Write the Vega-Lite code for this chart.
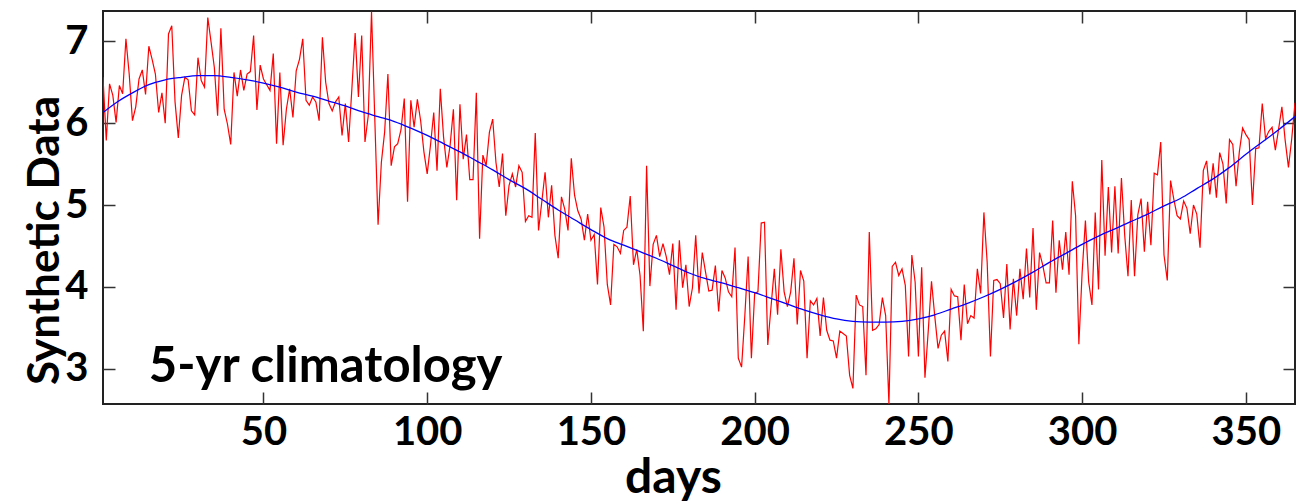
{
  "$schema": "https://vega.github.io/schema/vega-lite/v6.json",
  "width": 1192,
  "height": 393,
  "autosize": {"type": "none"},
  "padding": {"left": 103, "top": 11, "right": 1, "bottom": 100},
  "background": "white",
  "config": {
    "view": {"stroke": "#222222", "strokeWidth": 2},
    "axis": {
      "domain": false, "grid": false,
      "labelFont": "Lato", "labelFontWeight": "bold", "labelFontSize": 40, "labelColor": "black",
      "titleFont": "Lato", "titleFontWeight": "bold", "titleFontSize": 44, "titleColor": "black",
      "tickColor": "#333333", "tickSize": -12, "tickWidth": 1.5
    }
  },
  "datasets": {
    "obs": [
{"d":1,"v":6.56},{"d":2,"v":5.79},{"d":3,"v":6.48},{"d":4,"v":6.34},{"d":5,"v":6.01},{"d":6,"v":6.46},{"d":7,"v":6.36},{"d":8,"v":7.03},{"d":9,"v":6.6},{"d":10,"v":6.03},
{"d":11,"v":6.2},{"d":12,"v":6.54},{"d":13,"v":6.65},{"d":14,"v":6.35},{"d":15,"v":6.94},{"d":16,"v":6.78},{"d":17,"v":6.6},{"d":18,"v":6.13},{"d":19,"v":6.37},{"d":20,"v":6.0},
{"d":21,"v":7.09},{"d":22,"v":7.19},{"d":23,"v":6.26},{"d":24,"v":5.82},{"d":25,"v":6.34},{"d":26,"v":6.56},{"d":27,"v":6.53},{"d":28,"v":6.15},{"d":29,"v":6.1},{"d":30,"v":6.8},
{"d":31,"v":6.52},{"d":32,"v":6.44},{"d":33,"v":7.29},{"d":34,"v":6.99},{"d":35,"v":6.68},{"d":36,"v":6.09},{"d":37,"v":7.16},{"d":38,"v":6.17},{"d":39,"v":5.99},{"d":40,"v":5.74},
{"d":41,"v":6.62},{"d":42,"v":6.33},{"d":43,"v":6.65},{"d":44,"v":6.4},{"d":45,"v":6.6},{"d":46,"v":6.63},{"d":47,"v":7.07},{"d":48,"v":6.16},{"d":49,"v":6.71},{"d":50,"v":6.54},
{"d":51,"v":6.47},{"d":52,"v":6.4},{"d":53,"v":6.85},{"d":54,"v":5.75},{"d":55,"v":6.62},{"d":56,"v":5.73},{"d":57,"v":6.17},{"d":58,"v":6.42},{"d":59,"v":6.07},{"d":60,"v":6.64},
{"d":61,"v":6.78},{"d":62,"v":7.03},{"d":63,"v":6.28},{"d":64,"v":6.22},{"d":65,"v":6.32},{"d":66,"v":6.26},{"d":67,"v":6.03},{"d":68,"v":7.05},{"d":69,"v":6.5},{"d":70,"v":6.24},
{"d":71,"v":6.15},{"d":72,"v":6.26},{"d":73,"v":6.32},{"d":74,"v":5.85},{"d":75,"v":6.24},{"d":76,"v":5.77},{"d":77,"v":6.42},{"d":78,"v":7.1},{"d":79,"v":6.32},{"d":80,"v":7.07},
{"d":81,"v":5.77},{"d":82,"v":6.09},{"d":83,"v":7.36},{"d":84,"v":6.05},{"d":85,"v":4.76},{"d":86,"v":5.52},{"d":87,"v":5.89},{"d":88,"v":6.6},{"d":89,"v":5.48},{"d":90,"v":5.71},
{"d":91,"v":5.75},{"d":92,"v":5.92},{"d":93,"v":6.3},{"d":94,"v":5.04},{"d":95,"v":6.28},{"d":96,"v":5.95},{"d":97,"v":6.29},{"d":98,"v":6.03},{"d":99,"v":5.65},{"d":100,"v":5.38},
{"d":101,"v":5.73},{"d":102,"v":6.13},{"d":103,"v":5.42},{"d":104,"v":6.42},{"d":105,"v":5.83},{"d":106,"v":5.46},{"d":107,"v":5.73},{"d":108,"v":6.17},{"d":109,"v":5.06},{"d":110,"v":6.23},
{"d":111,"v":5.56},{"d":112,"v":5.86},{"d":113,"v":5.31},{"d":114,"v":5.31},{"d":115,"v":6.37},{"d":116,"v":4.59},{"d":117,"v":5.61},{"d":118,"v":5.48},{"d":119,"v":5.89},{"d":120,"v":6.05},
{"d":121,"v":5.52},{"d":122,"v":5.22},{"d":123,"v":5.63},{"d":124,"v":4.87},{"d":125,"v":5.24},{"d":126,"v":5.38},{"d":127,"v":5.22},{"d":128,"v":5.48},{"d":129,"v":5.4},{"d":130,"v":4.8},
{"d":131,"v":4.87},{"d":132,"v":4.85},{"d":133,"v":5.88},{"d":134,"v":4.69},{"d":135,"v":5.04},{"d":136,"v":5.4},{"d":137,"v":4.85},{"d":138,"v":5.24},{"d":139,"v":4.63},{"d":140,"v":4.35},
{"d":141,"v":5.1},{"d":142,"v":4.95},{"d":143,"v":4.69},{"d":144,"v":5.57},{"d":145,"v":5.12},{"d":146,"v":4.93},{"d":147,"v":4.83},{"d":148,"v":4.57},{"d":149,"v":4.89},{"d":150,"v":4.57},
{"d":151,"v":4.64},{"d":152,"v":4.03},{"d":153,"v":4.97},{"d":154,"v":4.73},{"d":155,"v":4.03},{"d":156,"v":3.78},{"d":157,"v":4.52},{"d":158,"v":4.49},{"d":159,"v":4.41},{"d":160,"v":4.69},
{"d":161,"v":4.73},{"d":162,"v":5.11},{"d":163,"v":4.27},{"d":164,"v":4.46},{"d":165,"v":4.14},{"d":166,"v":3.46},{"d":167,"v":5.48},{"d":168,"v":4.01},{"d":169,"v":4.52},{"d":170,"v":4.63},
{"d":171,"v":4.37},{"d":172,"v":4.53},{"d":173,"v":4.37},{"d":174,"v":4.15},{"d":175,"v":4.53},{"d":176,"v":3.72},{"d":177,"v":4.57},{"d":178,"v":3.99},{"d":179,"v":4.27},{"d":180,"v":3.76},
{"d":181,"v":3.99},{"d":182,"v":4.63},{"d":183,"v":3.92},{"d":184,"v":4.42},{"d":185,"v":4.18},{"d":186,"v":3.95},{"d":187,"v":3.96},{"d":188,"v":4.26},{"d":189,"v":3.7},{"d":190,"v":4.2},
{"d":191,"v":4.11},{"d":192,"v":3.94},{"d":193,"v":3.88},{"d":194,"v":4.48},{"d":195,"v":3.13},{"d":196,"v":3.02},{"d":197,"v":3.65},{"d":198,"v":4.37},{"d":199,"v":3.13},{"d":200,"v":3.92},
{"d":201,"v":3.94},{"d":202,"v":4.78},{"d":203,"v":4.79},{"d":204,"v":3.29},{"d":205,"v":3.76},{"d":206,"v":4.22},{"d":207,"v":3.66},{"d":208,"v":4.46},{"d":209,"v":3.94},{"d":210,"v":3.76},
{"d":211,"v":3.94},{"d":212,"v":4.35},{"d":213,"v":3.54},{"d":214,"v":4.2},{"d":215,"v":4.07},{"d":216,"v":3.13},{"d":217,"v":3.83},{"d":218,"v":3.78},{"d":219,"v":3.86},{"d":220,"v":3.4},
{"d":221,"v":3.87},{"d":222,"v":3.47},{"d":223,"v":3.35},{"d":224,"v":3.34},{"d":225,"v":3.13},{"d":226,"v":3.46},{"d":227,"v":3.43},{"d":228,"v":3.4},{"d":229,"v":2.92},{"d":230,"v":2.76},
{"d":231,"v":3.9},{"d":232,"v":3.78},{"d":233,"v":3.76},{"d":234,"v":2.92},{"d":235,"v":4.67},{"d":236,"v":3.47},{"d":237,"v":3.49},{"d":238,"v":3.54},{"d":239,"v":3.87},{"d":240,"v":3.65},
{"d":241,"v":2.57},{"d":242,"v":4.25},{"d":243,"v":4.3},{"d":244,"v":4.14},{"d":245,"v":4.22},{"d":246,"v":4.02},{"d":247,"v":3.15},{"d":248,"v":4.39},{"d":249,"v":4.06},{"d":250,"v":3.15},
{"d":251,"v":4.24},{"d":252,"v":2.89},{"d":253,"v":3.46},{"d":254,"v":4.07},{"d":255,"v":3.64},{"d":256,"v":3.25},{"d":257,"v":3.41},{"d":258,"v":3.46},{"d":259,"v":3.09},{"d":260,"v":3.97},
{"d":261,"v":3.89},{"d":262,"v":3.88},{"d":263,"v":3.35},{"d":264,"v":4.03},{"d":265,"v":3.55},{"d":266,"v":3.65},{"d":267,"v":3.62},{"d":268,"v":4.22},{"d":269,"v":3.92},{"d":270,"v":4.91},
{"d":271,"v":4.3},{"d":272,"v":3.15},{"d":273,"v":4.08},{"d":274,"v":4.09},{"d":275,"v":4.04},{"d":276,"v":3.62},{"d":277,"v":4.28},{"d":278,"v":3.48},{"d":279,"v":4.1},{"d":280,"v":3.65},
{"d":281,"v":4.22},{"d":282,"v":3.85},{"d":283,"v":4.47},{"d":284,"v":3.87},{"d":285,"v":4.72},{"d":286,"v":3.72},{"d":287,"v":4.42},{"d":288,"v":4.26},{"d":289,"v":4.05},{"d":290,"v":4.05},
{"d":291,"v":4.81},{"d":292,"v":3.93},{"d":293,"v":4.57},{"d":294,"v":4.21},{"d":295,"v":4.67},{"d":296,"v":4.15},{"d":297,"v":5.29},{"d":298,"v":4.87},{"d":299,"v":3.3},{"d":300,"v":4.18},
{"d":301,"v":4.81},{"d":302,"v":4.06},{"d":303,"v":3.78},{"d":304,"v":4.91},{"d":305,"v":3.97},{"d":306,"v":5.55},{"d":307,"v":4.38},{"d":308,"v":5.22},{"d":309,"v":4.42},{"d":310,"v":5.23},
{"d":311,"v":4.41},{"d":312,"v":5.33},{"d":313,"v":4.63},{"d":314,"v":4.13},{"d":315,"v":5.06},{"d":316,"v":4.13},{"d":317,"v":4.88},{"d":318,"v":5.08},{"d":319,"v":4.43},{"d":320,"v":5.04},
{"d":321,"v":4.51},{"d":322,"v":5.39},{"d":323,"v":5.37},{"d":324,"v":5.77},{"d":325,"v":4.39},{"d":326,"v":4.08},{"d":327,"v":5.3},{"d":328,"v":5.07},{"d":329,"v":4.87},{"d":330,"v":4.83},
{"d":331,"v":5.05},{"d":332,"v":4.96},{"d":333,"v":4.65},{"d":334,"v":5.0},{"d":335,"v":4.89},{"d":336,"v":4.48},{"d":337,"v":5.42},{"d":338,"v":5.54},{"d":339,"v":5.13},{"d":340,"v":5.51},
{"d":341,"v":5.09},{"d":342,"v":5.64},{"d":343,"v":5.5},{"d":344,"v":5.02},{"d":345,"v":5.8},{"d":346,"v":5.74},{"d":347,"v":5.23},{"d":348,"v":5.65},{"d":349,"v":5.94},{"d":350,"v":5.86},
{"d":351,"v":5.8},{"d":352,"v":5.0},{"d":353,"v":5.69},{"d":354,"v":5.7},{"d":355,"v":6.24},{"d":356,"v":5.81},{"d":357,"v":5.9},{"d":358,"v":5.95},{"d":359,"v":5.67},{"d":360,"v":5.93},
{"d":361,"v":6.2},{"d":362,"v":5.79},{"d":363,"v":5.46},{"d":364,"v":5.81},{"d":365,"v":6.25}
    ],
    "clim": [
{"d":1,"v":6.13},{"d":5,"v":6.25},{"d":10,"v":6.37},{"d":15,"v":6.47},{"d":20,"v":6.53},{"d":25,"v":6.56},{"d":30,"v":6.58},{"d":35,"v":6.58},{"d":40,"v":6.56},{"d":45,"v":6.53},
{"d":50,"v":6.49},{"d":55,"v":6.44},{"d":60,"v":6.38},{"d":65,"v":6.33},{"d":70,"v":6.27},{"d":75,"v":6.21},{"d":80,"v":6.14},{"d":85,"v":6.08},{"d":90,"v":6.02},{"d":95,"v":5.94},
{"d":100,"v":5.85},{"d":105,"v":5.75},{"d":110,"v":5.65},{"d":115,"v":5.54},{"d":120,"v":5.43},{"d":125,"v":5.31},{"d":130,"v":5.2},{"d":135,"v":5.07},{"d":140,"v":4.94},{"d":145,"v":4.82},
{"d":150,"v":4.7},{"d":155,"v":4.59},{"d":160,"v":4.51},{"d":165,"v":4.43},{"d":170,"v":4.35},{"d":175,"v":4.26},{"d":180,"v":4.17},{"d":185,"v":4.1},{"d":190,"v":4.05},{"d":195,"v":3.99},
{"d":200,"v":3.93},{"d":205,"v":3.86},{"d":210,"v":3.79},{"d":215,"v":3.72},{"d":220,"v":3.66},{"d":225,"v":3.61},{"d":230,"v":3.58},{"d":235,"v":3.57},{"d":240,"v":3.57},{"d":245,"v":3.58},
{"d":250,"v":3.61},{"d":255,"v":3.66},{"d":260,"v":3.73},{"d":265,"v":3.8},{"d":270,"v":3.88},{"d":275,"v":3.97},{"d":280,"v":4.07},{"d":285,"v":4.18},{"d":290,"v":4.3},{"d":295,"v":4.41},
{"d":300,"v":4.52},{"d":305,"v":4.62},{"d":310,"v":4.71},{"d":315,"v":4.8},{"d":320,"v":4.89},{"d":325,"v":4.99},{"d":330,"v":5.08},{"d":335,"v":5.2},{"d":340,"v":5.32},{"d":345,"v":5.46},
{"d":350,"v":5.62},{"d":355,"v":5.77},{"d":360,"v":5.92},{"d":365,"v":6.08}
    ],
    "note": [{"d": 15, "v": 2.84, "t": "5-yr climatology"}]
  },
  "layer": [
    {
      "data": {"name": "obs"},
      "mark": {"type": "line", "color": "#ff0000", "strokeWidth": 1.2, "clip": true},
      "encoding": {
        "x": {"field": "d", "type": "quantitative",
              "scale": {"domain": [1, 365], "nice": false, "zero": false},
              "axis": {"orient": "bottom", "values": [50, 100, 150, 200, 250, 300, 350], "title": "days", "titleFontSize": 48, "titleX": 570, "labelPadding": 20, "titlePadding": 2}},
        "y": {"field": "v", "type": "quantitative",
              "scale": {"domain": [2.57, 7.37], "nice": false, "zero": false},
              "axis": {"orient": "left", "values": [3, 4, 5, 6, 7], "title": "Synthetic Data", "titleY": 229, "labelPadding": 27, "titlePadding": -3}}
      }
    },
    {
      "data": {"name": "clim"},
      "mark": {"type": "line", "color": "#0000ff", "strokeWidth": 1.3, "interpolate": "monotone", "clip": true},
      "encoding": {
        "x": {"field": "d", "type": "quantitative",
              "axis": {"orient": "top", "values": [50, 100, 150, 200, 250, 300, 350], "labels": false, "title": null}},
        "y": {"field": "v", "type": "quantitative",
              "axis": {"orient": "right", "values": [3, 4, 5, 6, 7], "labels": false, "title": null}}
      }
    },
    {
      "data": {"name": "note"},
      "mark": {"type": "text", "align": "left", "baseline": "alphabetic", "font": "Lato", "fontWeight": "bold", "fontSize": 49, "color": "black"},
      "encoding": {
        "x": {"field": "d", "type": "quantitative", "axis": null},
        "y": {"field": "v", "type": "quantitative", "axis": null},
        "text": {"field": "t"}
      }
    }
  ],
  "resolve": {"axis": {"x": "independent", "y": "independent"}}
}
